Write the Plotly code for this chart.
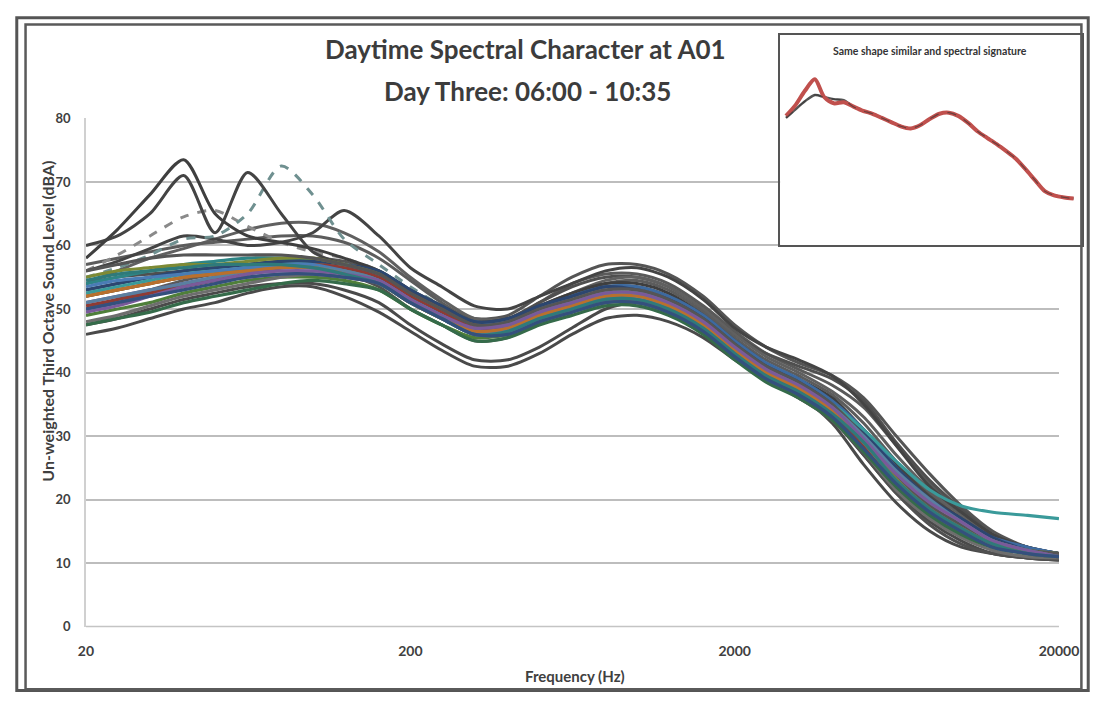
import math
import plotly.graph_objects as go

W, H = 1117, 703

# ---------------- data ----------------
freq_hz = [20, 25, 31.5, 40, 50, 63, 80, 100, 125, 160, 200, 250, 315, 400, 500, 630,
           800, 1000, 1250, 1600, 2000, 2500, 3150, 4000, 5000, 6300, 8000, 10000,
           12500, 16000, 20000]
x_tick_vals = [20, 200, 2000, 20000]
x_tick_text = ["20", "200", "2000", "20000"]
y_tick_vals = [0, 10, 20, 30, 40, 50, 60, 70, 80]

# main band (coloured) spectra, dB
c01 = [54,55,56,57,57.5,58,58,57.5,56,54,51,48.5,46,46.5,48.5,50.5,52,51.5,50,47,43,40,37,34,30,24,19,15.5,13,11.5,11]
c02 = [50,51,52.5,54,55,56,57,57,56.5,55,52,50,48,48,50,52,53.5,53.5,52,49,45,41.5,39,35.5,31,25,20,16.5,14,12.5,11.5]
c03 = [52,53,54,55,55.5,56,56.5,56.5,56,55,52.5,50,47.5,47.5,49.5,51,52.5,52.5,51,48,44,40.5,38,34.5,29.5,23.5,18.5,15.5,13,11.5,11]
c04 = [49,50,51,52.5,53.5,54.5,55,55,54.5,53,50,47.5,45.5,46,48,49.5,51,51,49.5,46.5,42.5,39,36.5,33,28,22,17.5,14.5,12.5,11.5,11]
c05 = [53,54,55,56,56.5,57,57.5,57.5,57,56,53,50.5,48,48.5,50.5,52,53.5,53,51.5,48.5,44.5,41,38.5,35,30.5,25,20,17,14,12,11]
c06 = [51,52,53,54,54.5,55,55.5,55.5,55,54,51,48.5,46,46.5,48.5,50,51.5,51.5,50,47,43,39.5,37,33.5,28.5,22.5,18,15,13,11.5,11]
c07 = [55,56,56.5,57,57,57.5,58,58,57,55.5,52,49.5,47,47.5,49.5,51,52.5,52.5,51,48,44,40.5,38,34.5,29.5,23.5,19,16,13.5,12,11.5]
c08 = [48,49,50.5,52,53,54,55,55.5,55,54,51,48.5,46,46,48,49.5,51,51,49.5,46.5,42.5,39,36,32.5,27.5,21.5,17,14,12,11,10.8]
c09 = [52.5,53.5,54.5,55.5,56,56.5,57,57,56.5,55,52,49.5,47,47.5,49.5,51,52.5,52.5,51,48,44,40.5,38,35,31,26,21.5,19,18,17.5,17]
c10 = [50.5,51.5,52.5,53.5,54.5,55.5,56.5,57,56.5,55,52,49.5,47,47,49,50.5,51.5,51.5,50,47,43,39.5,37,33.5,28.5,23,18.5,15.5,13,11.5,11]
c11 = [53.5,54.5,55,55.5,56,56.5,57,57,56,54.5,51.5,49,46.5,47,49,50.5,52,52,50.5,47.5,43.5,40,37.5,34,29,23,18.5,15.5,13,11.5,11]
c12 = [47.5,48.5,49.5,51,52,53,54,54.5,54,53,50,47.5,45,45.5,47.5,49,50.5,50.5,49,46,42,38.5,36,32.5,27.5,22,17.5,14.5,12.5,11.5,11]
c13 = [56,57,58,58.5,58.5,58.5,58.5,58,57,55.5,52.5,50,47.5,48,50,51.5,53,53,51.5,48.5,44.5,41,38.5,35,30,24,19,16,13.5,12,11.5]
c14 = [51,52,53,54,55,56,56.5,56.5,56,54.5,51.5,49,46.5,46.5,48.5,50,51.5,51.5,50,47,43,40,37.5,34.5,30,24.5,20,16.5,13.5,12,11]
c15 = [52,53,54,55,55.5,56,56.5,56.5,55.5,54,51,48.5,46.5,47,49,50.5,52,52,50.5,47.5,43.5,40,37.5,34,29,23,18.5,15.5,13,11.5,11]
c16 = [49.5,50.5,52,53.5,54.5,55.5,56,56,55.5,54.5,51.5,49,47,47.5,49.5,51,52.5,52.5,51,48,44,40.5,38,34.5,29.5,24,19.5,16.5,13.5,12,11]
c17 = [54.5,55.5,56,56.5,57,57,57,56.5,55.5,54,51,48.5,46,46.5,48.5,50,51.5,51.5,50,47,43,39.5,37,33.5,29,23,18.5,15.5,13,11.5,11]
c18 = [50,51,52,53,54,55,55.5,55.5,55,54,51,48.5,46,46,48,49.5,51,51,49.5,46.5,42.5,39,36.5,33,28,22.5,18,15,12.5,11.5,11]

# dark grey spectra (outliers and edges of the band)
g01 = [58,62.5,68,73.5,65,61.5,60.5,59.5,58,56,53,50.5,48,48.5,50.5,52.5,54,54,52.5,49,45,41.5,39,36,31,25,20,16.5,13.5,12,11.5]
g02 = [60,61.5,65,71,62,71.5,65,59,57,55.5,52.5,50,47.5,48,50,52,53.5,53.5,52,48.5,44.5,41,38.5,35.5,31,25.5,20.5,17,14,12,11.5]
g03 = [55,56.5,58.5,61,61.5,65,72.5,68,61,57,53.5,50.5,48,48,50,51.5,53,53,51.5,48.5,44.5,41,38.5,35,30.5,24.5,19.5,16,13.5,12,11.5]
g04 = [56,57.5,59.5,61.5,61,60,60.5,62,65.5,61.5,56.5,53.5,50.5,50,52,54,56,56.5,55,51.5,47,44,42,39.5,35,28.5,22,18,14.5,12.5,11.5]
g05 = [56,58.5,61.5,64.5,65.5,63,60.5,59,58,56,53,50,47.5,47.5,49.5,51.5,53,53,51.5,48,44,40.5,38,34.5,30,24,19,16,13.5,12,11]
g06 = [54,56,58,59.5,61,62.5,63.5,63.5,62,59,55,51.5,48.5,48.5,50.5,52.5,54.5,55,53.5,50,46,42.5,40,37,33,27,21.5,17.5,14,12,11.5]
g07 = [57,58,59,60,60.5,61,61.5,61.5,60.5,58,54.5,51,48,48,50,52,54,54.5,53,49.5,45.5,42,39.5,36.5,32,26,21,17,14,12,11.5]
g08 = [46,47,48.5,50,51,52.5,53.5,53.5,52,49.5,46.5,43.5,41,41,43,46,48.5,49,48,45.5,42,39,36,32.5,27,21,16.5,13.5,11.5,10.8,10.5]
g09 = [47.5,48.5,50,51.5,52.5,53.5,54,54,53,51,47.5,44.5,42,42,44,47,50,51,50,47,43,39.5,36.5,32,25.5,19.5,15,12.5,11.5,10.8,10.5]
g10 = [52,53,54,55,55.5,56,56.5,56.5,55.5,53.5,50,47.5,45,45.5,48,50,51.5,51.5,50,47,43.5,40,37,33,27,21,16,13,11.5,10.8,10.5]
g11 = [53,54,55,56,56.5,57,57.5,58,57.5,56,53,50.5,48.5,49,52,55,57,57,55.5,52,47.5,44,41.5,39.5,36,30,24,19,15,12.5,11.5]
g12 = [50,51.5,53,54.5,55.5,56.5,57,57,56,54,51.5,49,47,48,51,54,55.5,55.5,54,50.5,46.5,43,40.5,38,34.5,28.5,22.5,18,14.5,12.5,11.5]
g13 = [54,55,55.5,56,56.5,57,57.5,57.5,57,55,52,50,48,48.5,51,53.5,55,55,53.5,50,46,43,41,39,35.5,29,23,18.5,14.5,12.5,11.5]

# inset spectra
inset_red = [51,56,63,68.5,60,57,57.5,55.5,53.5,52,50,48,46,45,46.5,49.5,52,52.5,51,47.5,43.5,40.5,37.5,34,30.5,25.5,20,15,13,12,11.5]
inset_grey = [50,54,58,61,60,59,58.5,55.5,53.5,52,50,48,46,45,46.5,49.5,52,52.5,51,47.5,43.5,40.5,37.5,34,30.5,25.5,20,15,13,12,11.5]

grey_series = [
    (g08, "#4a4a4a", "solid"), (g09, "#4a4a4a", "solid"), (g10, "#505050", "solid"),
    (g11, "#555555", "solid"), (g12, "#5a5a5a", "solid"), (g13, "#4f4f4f", "solid"),
    (g06, "#606060", "solid"), (g07, "#5c5c5c", "solid"), (g05, "#8a8a8a", "dash"),
    (g04, "#444444", "solid"), (g03, "#6f9090", "dash"), (g02, "#444444", "solid"),
    (g01, "#3f3f3f", "solid"),
]
colour_series = [
    (c01, "#2e8585"), (c02, "#3d6aa0"), (c03, "#9a5b2a"), (c04, "#4f7f3a"),
    (c05, "#2c4670"), (c06, "#6a4d8c"), (c07, "#7d8a35"), (c08, "#6e6e6e"),
    (c09, "#3a9a9a"), (c10, "#8e3b34"), (c11, "#4a7cb5"), (c12, "#356b4a"),
    (c13, "#555555"), (c14, "#5a7fa0"), (c15, "#b8702e"), (c16, "#7a5a9a"),
    (c17, "#2f7a7a"), (c18, "#34507d"),
]

fig = go.Figure()
for vals, col, dash in grey_series:
    fig.add_trace(go.Scatter(x=freq_hz, y=vals, mode="lines",
                             line=dict(color=col, width=3, shape="spline", smoothing=0.8, dash=dash),
                             xaxis="x", yaxis="y", showlegend=False, hoverinfo="skip"))
for vals, col in colour_series:
    fig.add_trace(go.Scatter(x=freq_hz, y=vals, mode="lines",
                             line=dict(color=col, width=3.2, shape="spline", smoothing=0.8),
                             xaxis="x", yaxis="y", showlegend=False, hoverinfo="skip"))

# inset
fig.add_trace(go.Scatter(x=freq_hz, y=inset_grey, mode="lines",
                         line=dict(color="#555555", width=2.5, shape="spline", smoothing=0.8),
                         xaxis="x2", yaxis="y2", showlegend=False, hoverinfo="skip"))
fig.add_trace(go.Scatter(x=freq_hz, y=inset_red, mode="lines",
                         line=dict(color="#c0504d", width=4, shape="spline", smoothing=0.8),
                         xaxis="x2", yaxis="y2", showlegend=False, hoverinfo="skip"))
fig.add_trace(go.Scatter(x=freq_hz, y=inset_grey, mode="lines",
                         line=dict(color="#333333", width=1.2, shape="spline", smoothing=0.8, dash="dash"),
                         xaxis="x2", yaxis="y2", showlegend=False, hoverinfo="skip",
                         opacity=0.6))

# ---------------- layout (positions given in page pixels) ----------------
def px_x(p):
    return p / W


def px_y(p):
    return 1 - p / H


main_left, main_right, main_top, main_bottom = 80, 1078, 113, 633
ins_l, ins_r, ins_t, ins_b = 792, 1102, 28, 243
# inset data mapping: 20 Hz at 798 px, 20 kHz at 1093 px; 0 dB at 219.5 px, 2.14 px/dB
dec_px = (1093 - 798) / 3.0
ins_x0 = math.log10(20) - (798 - ins_l) / dec_px
ins_x1 = math.log10(20000) + (ins_r - 1093) / dec_px
ins_y0 = -(ins_b - 219.5) / 2.14
ins_y1 = (219.5 - ins_t) / 2.14

xtick_font = dict(family="Lato", size=14, color="#404040", weight="bold")
ytick_font = dict(family="Lato", size=13, color="#404040", weight="bold")

fig.update_layout(
    width=W, height=H,
    margin=dict(l=0, r=0, t=0, b=0),
    paper_bgcolor="white", plot_bgcolor="white",
    xaxis=dict(type="log", domain=[px_x(main_left), px_x(main_right)],
               range=[math.log10(20), math.log10(20000)],
               tickvals=x_tick_vals, ticktext=x_tick_text, tickfont=xtick_font,
               showgrid=False, zeroline=False, showline=False, ticks="",
               ticklabelstandoff=14, anchor="y"),
    yaxis=dict(domain=[px_y(main_bottom), px_y(main_top)], range=[0, 80],
               tickvals=y_tick_vals, tickfont=ytick_font,
               showgrid=True, gridcolor="#bdbdbd", gridwidth=1.5,
               zeroline=False, showline=True, linecolor="#d0d0d0", linewidth=1.5,
               ticks="", ticklabelstandoff=11, anchor="x"),
    xaxis2=dict(type="log", domain=[px_x(ins_l), px_x(ins_r)], range=[ins_x0, ins_x1],
                showgrid=False, zeroline=False, showticklabels=False, ticks="",
                showline=True, mirror=True, linecolor="#555555", linewidth=2, anchor="y2"),
    yaxis2=dict(domain=[px_y(ins_b), px_y(ins_t)], range=[ins_y0, ins_y1],
                showgrid=False, zeroline=False, showticklabels=False, ticks="",
                showline=True, mirror=True, linecolor="#555555", linewidth=2, anchor="x2"),
    shapes=[
        dict(type="rect", xref="paper", yref="paper", x0=px_x(9), x1=px_x(1108),
             y0=px_y(698.5), y1=px_y(10), line=dict(color="#555555", width=3), layer="above"),
        dict(type="rect", xref="paper", yref="paper", x0=px_x(18), x1=px_x(1101),
             y0=px_y(697), y1=px_y(17), line=dict(color="#5a5a5a", width=2.5), layer="above"),
        dict(type="line", xref="paper", yref="paper", x0=px_x(main_left), x1=px_x(main_right),
             y0=px_y(main_bottom), y1=px_y(main_bottom), line=dict(color="#c4c4c4", width=1.5),
             layer="below"),
    ],
    annotations=[
        dict(text="Daytime Spectral Character at A01", x=px_x(531), y=px_y(42),
             xref="paper", yref="paper", showarrow=False, xanchor="center", yanchor="middle",
             font=dict(family="Lato", size=26, color="#3c3c3c", weight="bold")),
        dict(text="Day Three: 06:00 - 10:35", x=px_x(533), y=px_y(85),
             xref="paper", yref="paper", showarrow=False, xanchor="center", yanchor="middle",
             font=dict(family="Lato", size=26, color="#3c3c3c", weight="bold")),
        dict(text="Un-weighted Third Octave Sound Level (dBA)", x=px_x(41), y=px_y(320),
             xref="paper", yref="paper", showarrow=False, textangle=-90,
             xanchor="center", yanchor="middle",
             font=dict(family="Lato", size=16, color="#404040", weight="bold")),
        dict(text="Frequency (Hz)", x=px_x(582), y=px_y(684),
             xref="paper", yref="paper", showarrow=False, xanchor="center", yanchor="middle",
             font=dict(family="Lato", size=15, color="#404040", weight="bold")),
        dict(text="Same shape similar and spectral signature", x=px_x(946), y=px_y(44),
             xref="paper", yref="paper", showarrow=False, xanchor="center", yanchor="middle",
             font=dict(family="Lato", size=10.5, color="#333333", weight="bold")),
    ],
)

fig.write_html(
    "out.html",
    post_script=(
        "document.documentElement.style.margin='0';"
        "document.body.style.margin='0';"
        "document.documentElement.style.overflow='hidden';"
        "document.body.style.overflow='hidden';"
    ),
)
